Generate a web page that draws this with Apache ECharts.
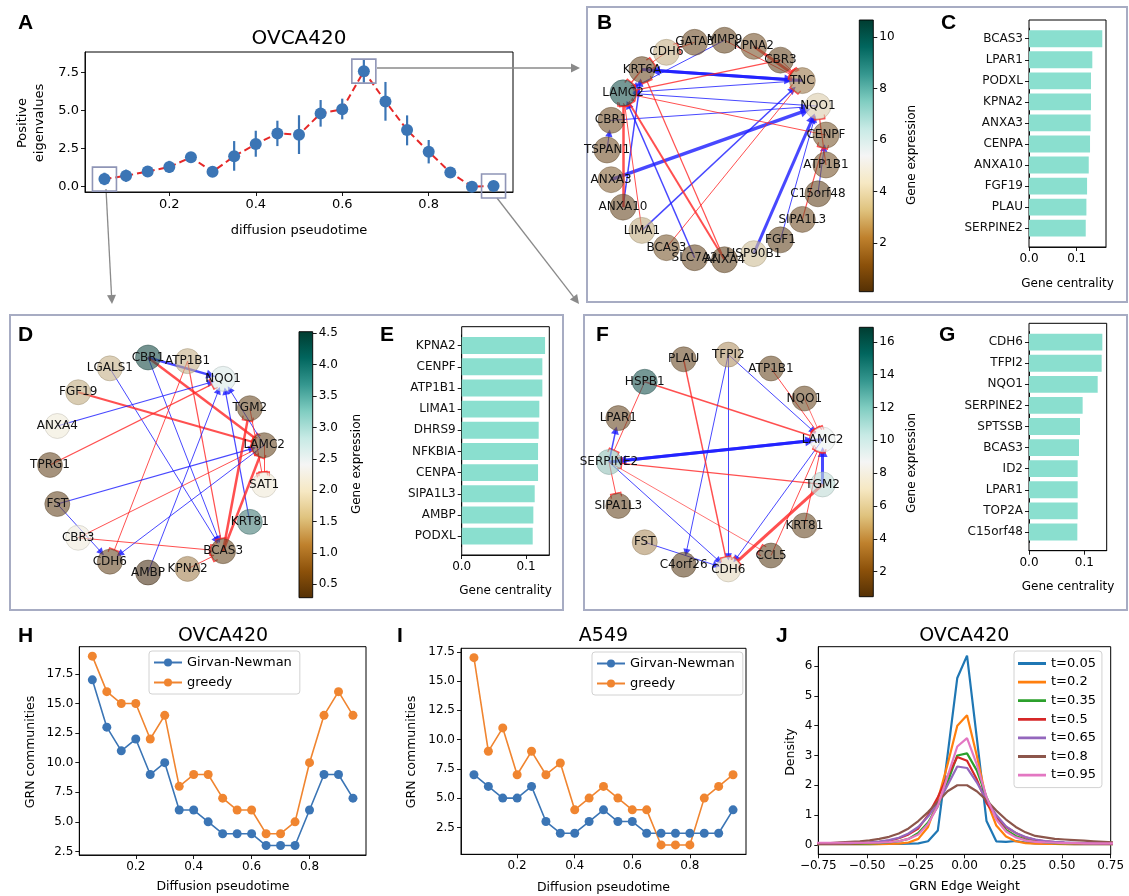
<!DOCTYPE html>
<html><head><meta charset="utf-8">
<script src="https://cdn.jsdelivr.net/npm/echarts@6/dist/echarts.min.js"></script>
<style>html,body{margin:0;padding:0;background:#fff}#c{width:1129px;height:896px}</style>
</head><body><div id="c"></div>
<script>
const FONT = 'DejaVu Sans';
// ---------------- DATA ----------------
// Panel A
const timeA = [0.05,0.10,0.15,0.20,0.25,0.30,0.35,0.40,0.45,0.50,0.55,0.60,0.65,0.70,0.75,0.80,0.85,0.90,0.95];
const eigA   = [0.50,0.72,1.00,1.30,1.93,0.98,2.00,2.80,3.50,3.42,4.82,5.10,7.60,5.61,3.73,2.30,0.94,0.00,0.04];
const eigLo  = [0.10,0.32,0.85,0.90,1.73,0.83,1.05,1.97,2.67,2.15,3.95,4.43,6.84,4.34,2.72,1.53,0.74,0.00,0.02];
const eigHi  = [0.92,1.12,1.15,1.70,2.13,1.13,3.00,3.68,4.34,4.70,5.70,5.79,8.38,6.89,4.69,3.07,1.14,0.00,0.06];
const highlightT = [0.05,0.65,0.95];
const highlightV = [0.50,7.60,0.04];
const ticksA_x = [0.2,0.4,0.6,0.8];
const ticksA_y = [0.0,2.5,5.0,7.5];

// Panel B network (nodes listed clockwise)
const nodesB = ['ATP1B1','C15orf48','SIPA1L3','FGF1','HSP90B1','ANXA4','SLC7A2','BCAS3','LIMA1','ANXA10','ANXA3','TSPAN1','CBR1','LAMC2','KRT6A','CDH6','GATA3','MMP9','KPNA2','CBR3','TNC','NQO1','CENPF'];
const exprB  = [1.3,0.9,1.2,0.9,3.2,0.9,1.0,1.4,2.9,1.0,1.6,1.2,1.2,9.6,1.1,3.0,1.1,1.0,1.3,1.0,2.0,3.6,1.4];
const edgesB = [ // [source, target, sign(+1 activation, -1 inhibition), width]
 ['KRT6A','TNC',1,3],['TNC','KRT6A',1,3],['MMP9','LAMC2',1,1],['TNC','LAMC2',1,1],
 ['CBR1','NQO1',1,1],['ANXA3','NQO1',1,3.5],['ANXA10','KRT6A',1,1.5],['LIMA1','TNC',1,1.5],
 ['SLC7A2','LAMC2',1,1.5],['HSP90B1','NQO1',1,3],['FGF1','NQO1',1,1],['C15orf48','CENPF',1,1],
 ['TSPAN1','CBR1',1,1],['NQO1','LAMC2',1,1],
 ['KPNA2','TNC',-1,3],['CBR3','LAMC2',-1,1.2],['CDH6','KRT6A',-1,1],['CENPF','LAMC2',-1,1],
 ['ATP1B1','NQO1',-1,1.2],['SIPA1L3','CENPF',-1,1.2],['ANXA10','LAMC2',-1,2.5],['BCAS3','TNC',-1,1],
 ['LIMA1','LAMC2',-1,1],['ANXA4','LAMC2',-1,2],['ANXA4','KRT6A',-1,1.2],['GATA3','CDH6',-1,1],
 ['KRT6A','LAMC2',-1,1.5],['CBR3','TNC',-1,1],['MMP9','TNC',-1,1]
];
const cbB = {min:0.126, max:10.65, ticks:[2,4,6,8,10]};

// Panel C
const genesC = ['BCAS3','LPAR1','PODXL','KPNA2','ANXA3','CENPA','ANXA10','FGF19','PLAU','SERPINE2'];
const centC  = [0.1537,0.1328,0.1300,0.1300,0.1293,0.1280,0.1253,0.1218,0.1204,0.1190];

// Panel D network
const nodesD = ['SAT1','KRT81','BCAS3','KPNA2','AMBP','CDH6','CBR3','FST','TPRG1','ANXA4','FGF19','LGALS1','CBR1','ATP1B1','NQO1','TGM2','LAMC2'];
const exprD  = [2.05,3.76,0.65,1.13,0.37,0.63,2.10,0.62,0.63,2.07,1.40,1.45,4.20,1.45,2.70,0.65,0.63];
const edgesD = [
 ['CBR1','NQO1',1,2.5],['CBR1','LAMC2',-1,2.5],['CBR1','BCAS3',1,1],['LGALS1','BCAS3',1,1],
 ['ATP1B1','BCAS3',-1,1.2],['ATP1B1','CDH6',-1,1],['FGF19','LAMC2',-1,2],['ANXA4','NQO1',1,1.2],
 ['TPRG1','NQO1',-1,1.2],['FST','LAMC2',1,1.2],['FST','CDH6',1,1],['CBR3','LAMC2',-1,1],
 ['CBR3','BCAS3',-1,1],['AMBP','NQO1',1,1],['KRT81','NQO1',1,1.2],['BCAS3','TGM2',-1,2.5],
 ['BCAS3','LAMC2',-1,2.5],['LAMC2','CDH6',1,1],['LAMC2','NQO1',1,1],['TGM2','SAT1',-1,1],
 ['LAMC2','SAT1',-1,1],['KPNA2','BCAS3',-1,1]
];
const cbD = {min:0.287, max:4.525, ticks:[0.5,1.0,1.5,2.0,2.5,3.0,3.5,4.0,4.5]};

// Panel E
const genesE = ['KPNA2','CENPF','ATP1B1','LIMA1','DHRS9','NFKBIA','CENPA','SIPA1L3','AMBP','PODXL'];
const centE  = [0.1296,0.1254,0.1254,0.1207,0.1197,0.1187,0.1187,0.1135,0.1114,0.1104];

// Panel F network
const nodesF = ['TGM2','KRT81','CCL5','CDH6','C4orf26','FST','SIPA1L3','SERPINE2','LPAR1','HSPB1','PLAU','TFPI2','ATP1B1','NQO1','LAMC2'];
const exprF  = [10.8,1.8,1.5,6.4,1.5,4.1,1.8,12.0,1.8,15.2,1.8,4.2,1.9,2.0,9.0];
const edgesF = [
 ['TFPI2','LAMC2',1,1],['TFPI2','C4orf26',1,1],['TFPI2','CDH6',1,1],['PLAU','CDH6',-1,1.5],
 ['HSPB1','LAMC2',-1,1.5],['HSPB1','SERPINE2',-1,1],['SERPINE2','LPAR1',1,1.5],['SERPINE2','LAMC2',1,3],
 ['LAMC2','SERPINE2',1,3],['TGM2','SERPINE2',-1,1.2],['SERPINE2','SIPA1L3',-1,1],['SERPINE2','CDH6',1,1],
 ['SERPINE2','CCL5',-1,0.8],['FST','CDH6',1,1],['LAMC2','CDH6',1,1],['TGM2','LAMC2',1,3],
 ['TGM2','CDH6',-1,3],['KRT81','LAMC2',-1,1],['CCL5','LAMC2',-1,1],['ATP1B1','LAMC2',-1,1],
 ['NQO1','LAMC2',-1,0.8]
];
const cbF = {min:0.48, max:16.88, ticks:[2,4,6,8,10,12,14,16]};

// Panel G
const genesG = ['CDH6','TFPI2','NQO1','SERPINE2','SPTSSB','BCAS3','ID2','LPAR1','TOP2A','C15orf48'];
const centG  = [0.1326,0.1314,0.1242,0.0970,0.0922,0.0904,0.0880,0.0880,0.0880,0.0874];

// Panels H, I
const timeHI = [0.05,0.10,0.15,0.20,0.25,0.30,0.35,0.40,0.45,0.50,0.55,0.60,0.65,0.70,0.75,0.80,0.85,0.90,0.95];
const gnH     = [17,13,11,12,9,10,6,6,5,4,4,4,3,3,3,6,9,9,7];
const greedyH = [19,16,15,15,12,14,8,9,9,7,6,6,4,4,5,10,14,16,14];
const gnI     = [7,6,5,5,6,3,2,2,3,4,3,3,2,2,2,2,2,2,4];
const greedyI = [17,9,11,7,9,7,8,4,5,6,5,4,4,1,1,1,5,6,7];
const ticksHI_y = [2.5,5.0,7.5,10.0,12.5,15.0,17.5];

// Panel J
const weightJ = [-0.787,-0.737,-0.687,-0.637,-0.587,-0.537,-0.487,-0.437,-0.387,-0.337,-0.287,-0.237,-0.187,-0.137,-0.087,-0.037,0.013,0.063,0.113,0.163,0.213,0.263,0.313,0.363,0.413,0.463,0.513,0.563,0.613,0.663,0.713,0.763,0.813];
const namesJ = ['t=0.05','t=0.2','t=0.35','t=0.5','t=0.65','t=0.8','t=0.95'];
const dens005 = [0.02,0.02,0.02,0.02,0.02,0.02,0.02,0.03,0.03,0.03,0.04,0.05,0.12,0.48,3.0,5.6,6.35,3.6,0.8,0.12,0.1,0.13,0.08,0.05,0.04,0.03,0.03,0.02,0.02,0.02,0.02,0.02,0.02];
const dens020 = [0.02,0.02,0.02,0.02,0.02,0.02,0.02,0.02,0.03,0.04,0.08,0.2,0.6,1.5,2.7,4.0,4.35,3.0,1.5,0.65,0.28,0.12,0.06,0.04,0.03,0.03,0.02,0.02,0.02,0.02,0.02,0.02,0.02];
const dens035 = [0.04,0.04,0.04,0.04,0.04,0.04,0.05,0.06,0.08,0.12,0.2,0.4,0.75,1.3,2.1,3.0,3.07,2.5,1.6,0.9,0.5,0.3,0.18,0.12,0.08,0.06,0.05,0.05,0.04,0.04,0.04,0.04,0.04];
const dens050 = [0.04,0.04,0.04,0.05,0.05,0.06,0.07,0.1,0.14,0.22,0.35,0.55,1.0,1.6,2.3,2.95,2.82,2.2,1.4,0.95,0.6,0.4,0.25,0.17,0.12,0.09,0.07,0.06,0.05,0.05,0.04,0.04,0.04];
const dens065 = [0.05,0.05,0.05,0.06,0.06,0.07,0.08,0.11,0.16,0.24,0.38,0.6,0.95,1.4,2.0,2.63,2.58,2.1,1.5,1.0,0.62,0.4,0.26,0.18,0.13,0.1,0.08,0.07,0.06,0.05,0.05,0.05,0.05];
const dens080 = [0.04,0.05,0.06,0.08,0.1,0.12,0.15,0.2,0.27,0.38,0.55,0.8,1.1,1.45,1.8,2.0,2.0,1.8,1.5,1.15,0.85,0.6,0.42,0.3,0.25,0.2,0.18,0.16,0.14,0.12,0.1,0.08,0.07];
const dens095 = [0.07,0.07,0.07,0.07,0.07,0.07,0.07,0.07,0.09,0.12,0.2,0.35,0.7,1.3,2.3,3.3,3.58,2.7,1.6,0.85,0.45,0.25,0.15,0.1,0.08,0.07,0.06,0.06,0.05,0.05,0.05,0.05,0.05];
const ticksJ_x = [-0.75,-0.5,-0.25,0,0.25,0.5,0.75];
const ticksJ_y = [0,1,2,3,4,5,6];

// ---------------- STYLE HELPERS ----------------
const BRBG = ['#543005','#8c510a','#bf812d','#dfc27d','#f6e8c3','#f5f5f5','#c7eae5','#80cdc1','#35978f','#01665e','#003c30'];
const JCOL = ['#1f77b4','#ff7f0e','#2ca02c','#d62728','#9467bd','#8c564b','#e377c2'];
const BLUE = '#3b75b5', ORANGE = '#f08530', BARC = '#8adfcf';
function h2r(h){return [parseInt(h.slice(1,3),16),parseInt(h.slice(3,5),16),parseInt(h.slice(5,7),16)];}
function cmap(t){t=Math.max(0,Math.min(1,t));const p=t*10;const i=Math.min(9,Math.floor(p));const f=p-i;
  const a=h2r(BRBG[i]),b=h2r(BRBG[i+1]);return a.map((v,k)=>Math.round(v+(b[k]-v)*f));}
function nodeData(names, expr, cb){
  return names.map((n,i)=>{const c0=cmap((expr[i]-cb.min)/(cb.max-cb.min));
    const lum=0.299*c0[0]+0.587*c0[1]+0.114*c0[2];
    const c=c0.map(v=>Math.round(0.55*v+0.45*lum));
    return {name:n, itemStyle:{color:`rgba(${c[0]},${c[1]},${c[2]},0.62)`,
      borderColor:`rgba(${Math.round(c[0]*0.75)},${Math.round(c[1]*0.75)},${Math.round(c[2]*0.75)},0.4)`, borderWidth:1}};});
}
const TBAR = 'path://M0,0L0.01,0M20,20L20.01,20M1,9L19,9L19,11.5L1,11.5ZM1,4L3,4L3,11.5L1,11.5ZM17,4L19,4L19,11.5L17,11.5Z';
function makeLinks(edges){
  return edges.map(e=>({source:e[0], target:e[1],
    symbol:['none', e[2]>0?'triangle':TBAR],
    symbolSize:[1, e[2]>0 ? 6+e[3]*1.3 : 13],
    lineStyle:{color:e[2]>0?'#1a1aff':'#ff2424', width:e[3], opacity:0.8, curveness:0}}));
}
function graphSeries(names, expr, cb, edges, box, size){
  return {type:'graph', layout:'circular', left:box[0], top:box[1], width:box[2], height:box[2],
    symbol:'circle', symbolSize:size, roam:false, silent:true, animation:false,
    edgeSymbol:['none','triangle'], edgeSymbolSize:[1,8],
    label:{show:true, position:'inside', fontSize:12, fontFamily:FONT, color:'#111'},
    lineStyle:{opacity:0.8, curveness:0},
    data:nodeData(names, expr, cb), links:makeLinks(edges)};
}
const axLine = {show:true, onZero:false, lineStyle:{color:'#000', width:0.9}};
const axTick = (vals)=>({show:true, length:4, lineStyle:{color:'#000', width:0.9}, customValues:vals});
const axLab = (vals, fmt, fs)=>({show:true, color:'#000', fontSize:fs||12, fontFamily:FONT, margin:6, customValues:vals, formatter:fmt});
const f1 = v=>Number(v).toFixed(1);
const f2m = v=>Number(v).toFixed(2).replace('-','\u2212');
function valAxis(gi, min, max, ticks, fmt, fs, extra){
  return Object.assign({type:'value', gridIndex:gi, min:min, max:max, axisLine:axLine, axisTick:axTick(ticks),
    axisLabel:axLab(ticks, fmt, fs), splitLine:{show:false}}, extra||{});
}
function frameGrid(l,t,w,h){return {left:l, top:t, width:w, height:h, show:true, borderColor:'#000', borderWidth:1, backgroundColor:'transparent', outerBoundsMode:'none'};}
function plainGrid(l,t,w,h){return {left:l, top:t, width:w, height:h, show:false, outerBoundsMode:'none'};}

// ---------------- GRIDS & AXES ----------------
const grids = [
  frameGrid(85,52,428,140),          //0 A
  plainGrid(1029,28.2,77,210.5),     //1 C
  plainGrid(859.3,20,14,271.7),      //2 B colorbar
  plainGrid(461.7,335,87.6,211.7),   //3 E
  plainGrid(299,331.7,13.7,266),     //4 D colorbar
  plainGrid(1029,331.6,77.7,210.9),  //5 G
  plainGrid(859.3,327.3,14,269.4),   //6 F colorbar
  frameGrid(79.3,646.7,286.7,208.3), //7 H
  frameGrid(461,648.3,285,206),      //8 I
  frameGrid(818.3,646.7,292.4,207.6) //9 J
];
const catBarY = (gi, genes)=>({type:'category', gridIndex:gi, data:genes, inverse:true,
  axisLine:axLine, axisTick:{show:true, alignWithLabel:true, length:4, lineStyle:{color:'#000', width:0.9}},
  axisLabel:{color:'#111', fontSize:12, fontFamily:FONT, margin:6}});
const cbX = gi=>({type:'category', gridIndex:gi, data:['cb'], show:false});
const cbY = (gi, cb, fmt)=>valAxis(gi, cb.min, cb.max, cb.ticks, fmt, 12, {position:'right', axisLine:{show:false}});

const xAxes = [
  valAxis(0, 0.005, 0.995, ticksA_x, f1, 13),
  valAxis(1, 0, 0.1615, [0,0.1], f1, 12, {offset:8.3}),
  cbX(2),
  valAxis(3, 0, 0.1362, [0,0.1], f1, 12, {offset:8.3}),
  cbX(4),
  valAxis(5, 0, 0.1405, [0,0.1], f1, 12, {offset:8.2}),
  cbX(6),
  valAxis(7, 0.005, 0.995, ticksA_x, f1, 12),
  valAxis(8, 0.005, 0.995, ticksA_x, f1, 12),
  valAxis(9, -0.75, 0.75, ticksJ_x, f2m, 12)
];
const yAxes = [
  valAxis(0, -0.35, 8.86, ticksA_y, f1, 13),
  catBarY(1, genesC),
  cbY(2, cbB, v=>String(v)),
  catBarY(3, genesE),
  cbY(4, cbD, f1),
  catBarY(5, genesG),
  cbY(6, cbF, v=>String(v)),
  valAxis(7, 2.2, 19.8, ticksHI_y, f1, 12),
  valAxis(8, 0.2, 17.8, ticksHI_y, f1, 12),
  valAxis(9, -0.317, 6.65, ticksJ_y, v=>String(v), 12)
];

// ---------------- SERIES ----------------
const series = [];
// A: error bars
series.push({type:'custom', xAxisIndex:0, yAxisIndex:0, silent:true, z:2,
  data: timeA.map((t,i)=>[t, eigLo[i], eigHi[i]]), encode:{x:0, y:[1,2]},
  renderItem:(p, api)=>{const a=api.coord([api.value(0), api.value(1)]), b=api.coord([api.value(0), api.value(2)]);
    return {type:'line', shape:{x1:a[0],y1:a[1],x2:b[0],y2:b[1]}, style:{stroke:BLUE, lineWidth:2.2}};}});
// A: dashed line + markers
series.push({type:'line', name:'eig', xAxisIndex:0, yAxisIndex:0, silent:true, z:3,
  data: timeA.map((t,i)=>[t, eigA[i]]), symbol:'circle', symbolSize:12, itemStyle:{color:BLUE},
  lineStyle:{color:'#e62828', width:2, type:[7,4]}});
// A: highlight boxes
series.push({type:'custom', xAxisIndex:0, yAxisIndex:0, silent:true, z:4,
  data: highlightT.map((t,i)=>[t, highlightV[i]]),
  renderItem:(p, api)=>{const c=api.coord([api.value(0), api.value(1)]);
    return {type:'rect', shape:{x:c[0]-12, y:c[1]-12, width:24, height:24}, style:{fill:'none', stroke:'#8f95b6', lineWidth:1.6}};}});
// bars
[[1,centC],[3,centE],[5,centG]].forEach(([gi, vals])=>{
  series.push({type:'bar', xAxisIndex:gi, yAxisIndex:gi, data:vals, barCategoryGap:'20%', silent:true,
    itemStyle:{color:BARC}});
});
// colorbars
[[2,cbB],[4,cbD],[6,cbF]].forEach(([gi, cb])=>{
  series.push({type:'custom', xAxisIndex:gi, yAxisIndex:gi, silent:true, data:[[0, cb.min, cb.max]], encode:{x:0, y:[1,2]},
    renderItem:(p, api)=>{const cs=p.coordSys; const top=api.coord([0, api.value(2)])[1], bot=api.coord([0, api.value(1)])[1];
      return {type:'rect', shape:{x:cs.x, y:top, width:cs.width, height:bot-top},
        style:{fill:new echarts.graphic.LinearGradient(0,1,0,0, BRBG.map((c,i)=>({offset:i/10, color:c}))), stroke:'#000', lineWidth:0.9}};}});
});
// networks
series.push(graphSeries(nodesB, exprB, cbB, edgesB, [607,40,220], 26));
series.push(graphSeries(nodesD, exprD, cbD, edgesD, [50,357,216], 25));
series.push(graphSeries(nodesF, exprF, cbF, edgesF, [609,354,216], 25));
// H and I
function commLine(gi, name, vals, color){
  return {type:'line', name:name, xAxisIndex:gi, yAxisIndex:gi, silent:true, data:timeHI.map((t,i)=>[t, vals[i]]),
    symbol:'circle', symbolSize:9, itemStyle:{color:color}, lineStyle:{color:color, width:1.6}};
}
series.push(commLine(7,'Girvan-Newman',gnH,BLUE), commLine(7,'greedy',greedyH,ORANGE));
series.push(commLine(8,'Girvan-Newman',gnI,BLUE), commLine(8,'greedy',greedyI,ORANGE));
// J
[dens005,dens020,dens035,dens050,dens065,dens080,dens095].forEach((d,k)=>{
  series.push({type:'line', name:namesJ[k], xAxisIndex:9, yAxisIndex:9, silent:true, symbol:'none', clip:true,
    data: weightJ.map((x,i)=>[x, d[i]]), itemStyle:{color:JCOL[k]}, lineStyle:{color:JCOL[k], width:2.2}});
});

// ---------------- LEGENDS ----------------
const legBase = {orient:'vertical', selectedMode:false, borderColor:'#d2d2d2', borderWidth:1, borderRadius:3,
  backgroundColor:'rgba(255,255,255,0.85)', textStyle:{color:'#000', fontSize:13, fontFamily:FONT}, itemWidth:28};
const LINEICON = 'path://M0,0L0.01,0M0,12L0.01,12M0,4.6L28,4.6L28,7.4L0,7.4Z';
const legends = [
  Object.assign({}, legBase, {left:149, top:651, data:['Girvan-Newman','greedy'], itemHeight:10, itemGap:7, padding:[5,8,5,4]}),
  Object.assign({}, legBase, {left:592, top:652, data:['Girvan-Newman','greedy'], itemHeight:10, itemGap:7, padding:[5,8,5,4]}),
  Object.assign({}, legBase, {left:1014, top:651, data:namesJ.map(n=>({name:n, icon:LINEICON})), itemHeight:12, itemGap:5.6, padding:[6,6,6,4]})
];

// ---------------- ANNOTATIONS ----------------
const G = [];
const txt = (x,y,s,font,opts)=>Object.assign({type:'text', x:x, y:y, silent:true,
  style:{text:s, font:font, fill:'#000', textAlign:'center', textVerticalAlign:'middle', align:'center', verticalAlign:'middle'}}, opts||{});
const rot = (x,y,s,font,extra)=>txt(x,y,s,font,Object.assign({rotation:Math.PI/2}, extra||{}));
const rect = (x,y,w,h,stroke,lw)=>({type:'rect', silent:true, shape:{x:x,y:y,width:w,height:h}, style:{fill:'none', stroke:stroke, lineWidth:lw}});
const GREY = '#8a8a8a';
// panel borders
G.push(rect(587,7,540,295,'#a7acc3',2), rect(10,315,553,295,'#a7acc3',2), rect(584,315,543,295,'#a7acc3',2));
// bar frames
G.push(rect(1029,20,77,227,'#000',1), rect(461.7,326.7,87.6,228.3,'#000',1), rect(1029,323.3,77.7,227.4,'#000',1));
// connectors
G.push({type:'line', silent:true, shape:{x1:377,y1:68,x2:572,y2:68}, style:{stroke:GREY, lineWidth:1.3}});
G.push({type:'polygon', silent:true, shape:{points:[[580,68],[571,63.5],[571,72.5]]}, style:{fill:GREY}});
G.push({type:'line', silent:true, shape:{x1:106,y1:189,x2:111.5,y2:295}, style:{stroke:GREY, lineWidth:1.3}});
G.push({type:'polygon', silent:true, shape:{points:[[112,304],[107,295.2],[116,294.8]]}, style:{fill:GREY}});
G.push({type:'line', silent:true, shape:{x1:497,y1:198,x2:573.5,y2:296.9}, style:{stroke:GREY, lineWidth:1.3}});
G.push({type:'polygon', silent:true, shape:{points:[[579,304],[569.9,299.6],[577.1,294.1]]}, style:{fill:GREY}});
// panel letters
const LF = 'bold 21px "Liberation Sans", Arial, sans-serif';
[['A',18,23],['B',597,23],['C',941,23],['D',18,335],['E',380,335],['F',596,335],['G',939,335],['H',18,636],['I',397,636],['J',776,636]]
  .forEach(([s,x,y])=>G.push(txt(x,y,s,LF,{style:{text:s, font:LF, fill:'#000', textAlign:'left', textVerticalAlign:'middle', align:'left', verticalAlign:'middle'}})));
// titles
G.push(txt(299,39,'OVCA420','20px "DejaVu Sans"'));
G.push(txt(223,636,'OVCA420','19px "DejaVu Sans"'));
G.push(txt(603.5,636,'A549','19px "DejaVu Sans"'));
G.push(txt(964.3,636,'OVCA420','19px "DejaVu Sans"'));
// axis names
G.push(txt(299,231,'diffusion pseudotime','13px "DejaVu Sans"'));
G.push(rot(31.5,123,'Positive\neigenvalues','13px "DejaVu Sans"',{style:{text:'Positive\neigenvalues', font:'13px "DejaVu Sans"', fill:'#000', lineHeight:17, textAlign:'center', textVerticalAlign:'middle', align:'center', verticalAlign:'middle'}}));
G.push(txt(223,886.5,'Diffusion pseudotime','12.5px "DejaVu Sans"'));
G.push(rot(31,752,'GRN communities','12.5px "DejaVu Sans"'));
G.push(txt(603.5,887.5,'Diffusion pseudotime','12.5px "DejaVu Sans"'));
G.push(rot(411.7,752,'GRN communities','12.5px "DejaVu Sans"'));
G.push(txt(964.5,887,'GRN Edge Weight','12.5px "DejaVu Sans"'));
G.push(rot(790.7,752,'Density','12.5px "DejaVu Sans"'));
G.push(txt(1067.5,284,'Gene centrality','12px "DejaVu Sans"'));
G.push(txt(505.5,591,'Gene centrality','12px "DejaVu Sans"'));
G.push(txt(1068,586.7,'Gene centrality','12px "DejaVu Sans"'));
G.push(rot(912,155,'Gene expression','12px "DejaVu Sans"'));
G.push(rot(357,464,'Gene expression','12px "DejaVu Sans"'));
G.push(rot(912,463,'Gene expression','12px "DejaVu Sans"'));

const chart = echarts.init(document.getElementById('c'), null, {renderer:'canvas', width:1129, height:896});
chart.setOption({
  backgroundColor:'#fff', animation:false, textStyle:{fontFamily:FONT},
  grid:grids, xAxis:xAxes, yAxis:yAxes, series:series, legend:legends, graphic:{elements:G}
});
</script></body></html>
